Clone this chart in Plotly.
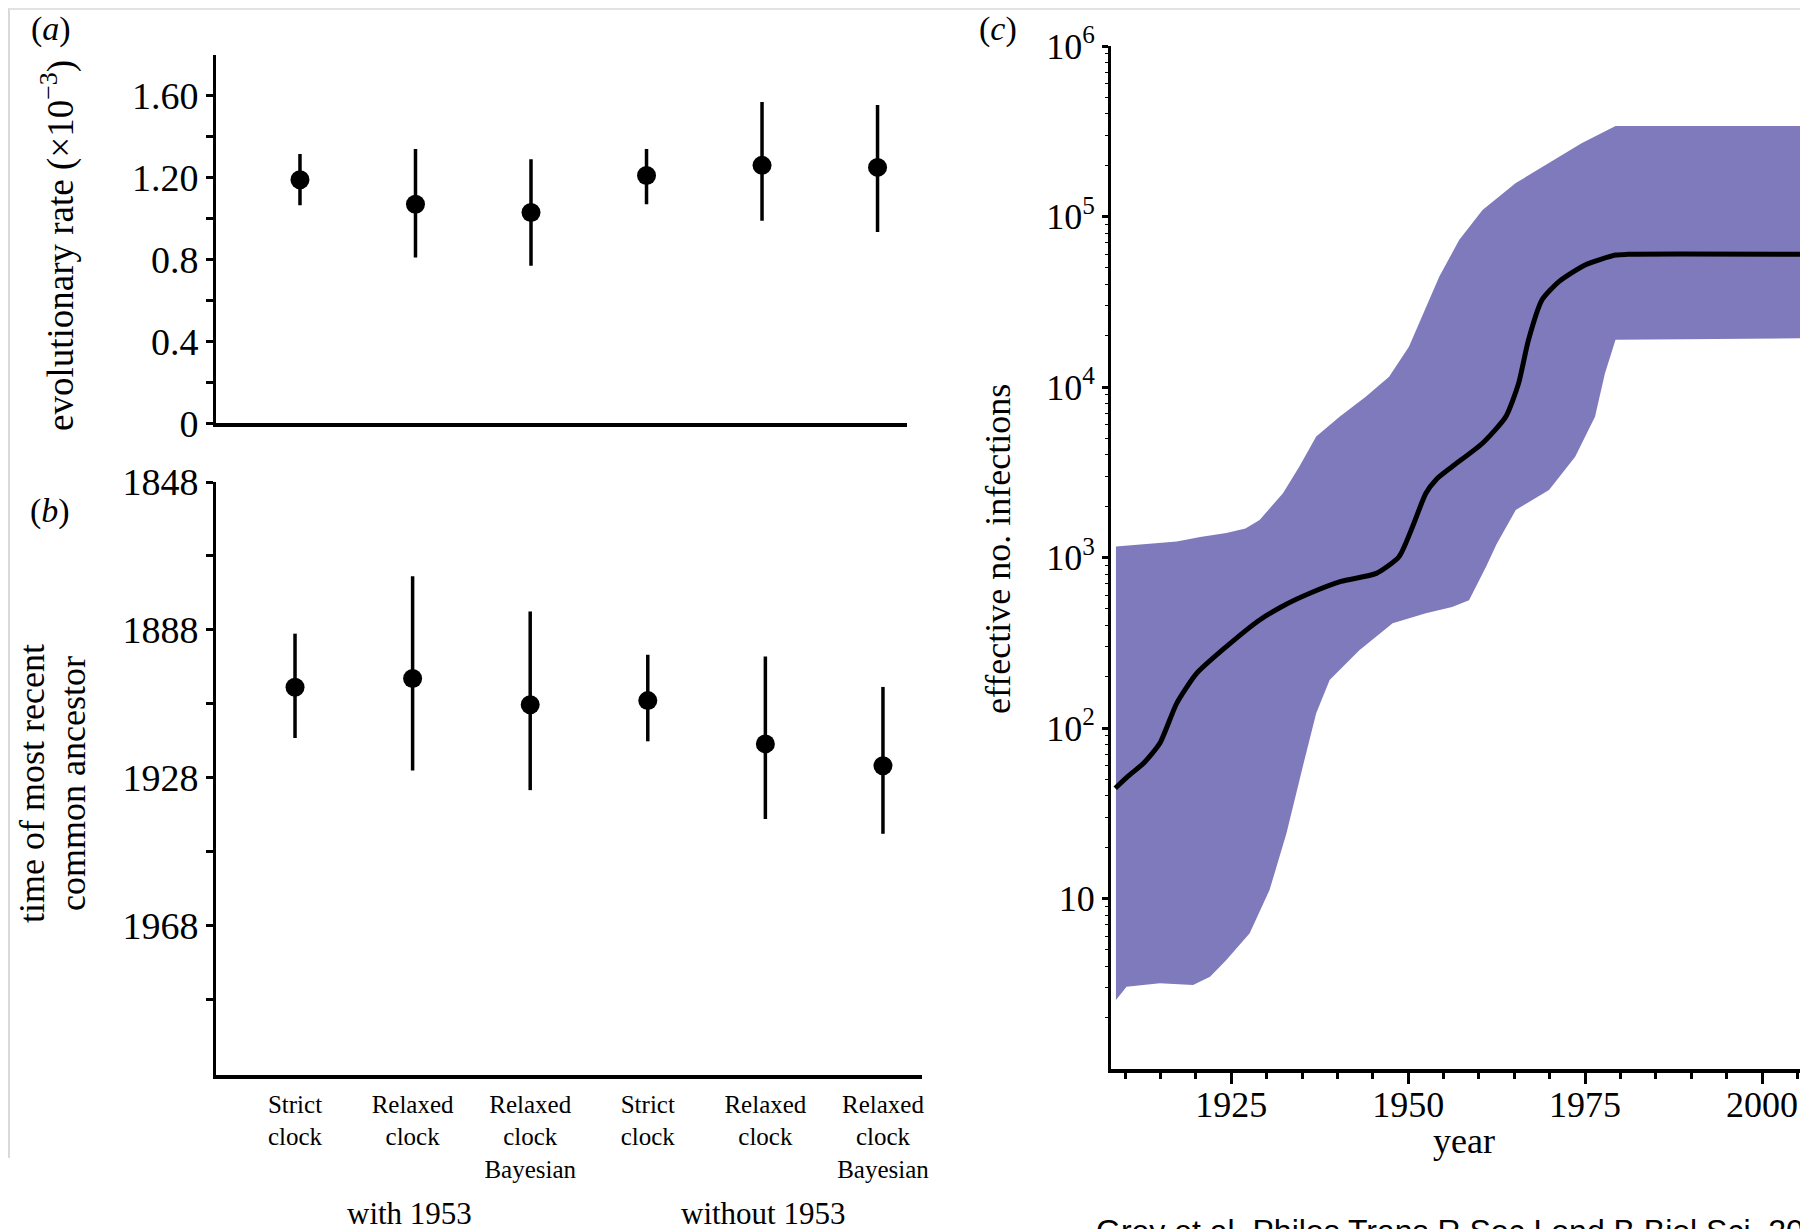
import plotly.graph_objects as go

# ---------------- data ----------------
positions = [1, 2, 3, 4, 5, 6]
categories = ["Strict<br>clock", "Relaxed<br>clock", "Relaxed<br>clock<br>Bayesian",
              "Strict<br>clock", "Relaxed<br>clock", "Relaxed<br>clock<br>Bayesian"]
groups = ["with 1953", "without 1953"]

# (a) evolutionary rate (x10^-3): estimate and 95% interval
rate_mean = [1.19, 1.07, 1.03, 1.21, 1.26, 1.25]
rate_low = [1.065, 0.81, 0.77, 1.07, 0.99, 0.935]
rate_high = [1.315, 1.34, 1.29, 1.34, 1.57, 1.555]

# (b) time of most recent common ancestor: estimate and interval
tmrca_mean = [1903.5, 1901.1, 1908.2, 1907.1, 1918.8, 1924.7]
tmrca_early = [1889.0, 1873.5, 1883.0, 1894.7, 1895.2, 1903.4]
tmrca_late = [1917.2, 1926.0, 1931.3, 1918.1, 1939.1, 1943.1]

# (c) effective number of infections through time
upper_years = [1908.7, 1913.0, 1917.3, 1920.6, 1924.3, 1927.0, 1929.0, 1932.3, 1934.6,
               1937.0, 1940.3, 1944.0, 1947.3, 1950.1, 1952.5, 1954.4, 1957.2, 1960.5,
               1965.2, 1969.9, 1974.5, 1979.3, 2006.5]
upper_vals = [1160, 1200, 1240, 1320, 1390, 1480, 1660, 2380, 3410,
              5120, 6700, 8770, 11500, 17200, 29600, 44400, 72800, 109000,
              157000, 205000, 269000, 340000, 340000]

lower_years = [1908.7, 1910.2, 1914.9, 1919.6, 1922.0, 1924.3, 1927.6, 1930.4, 1932.8,
               1935.1, 1937.0, 1938.9, 1943.1, 1947.8, 1952.5, 1956.2, 1958.6, 1961.0,
               1962.5, 1965.2, 1969.9, 1973.6, 1976.4, 1977.8, 1979.3, 2006.5]
lower_vals = [2.54, 3.04, 3.18, 3.11, 3.48, 4.36, 6.25, 11.2, 24.1,
              59.3, 122, 191, 286, 411, 471, 513, 562, 883,
              1200, 1900, 2490, 3900, 6700, 12000, 18900, 19300]

median_years = [1908.6, 1910.5, 1912.6, 1914.9, 1917.3, 1920.1, 1924.3, 1929.0, 1932.5,
                1936.1, 1940.5, 1945.5, 1948.7, 1950.6, 1952.5, 1954.0, 1956.2, 1960.5,
                1963.8, 1965.6, 1967.0, 1968.9, 1971.3, 1975.0, 1979.3, 1981.0, 2006.5]
median_vals = [44.3, 52.5, 62.1, 81.3, 140, 209, 300, 430, 525,
               617, 724, 807, 1010, 1510, 2380, 2880, 3410, 4680,
               6700, 10500, 18900, 32400, 41500, 52000, 59400, 60000, 60000]

rate_ticks = [0, 0.4, 0.8, 1.2, 1.6]
rate_ticktext = ["0", "0.4", "0.8", "1.20", "1.60"]
year_ticks = [1848, 1888, 1928, 1968]
log_ticks = [10, 100, 1000, 10000, 100000, 1000000]
log_ticktext = ["10", "10<sup>2</sup>", "10<sup>3</sup>", "10<sup>4</sup>",
                "10<sup>5</sup>", "10<sup>6</sup>"]
x_year_ticks = [1925, 1950, 1975, 2000]

# ---------------- layout helpers ----------------
PAGE_OFF = 8                 # default page margin around the plot div
W, H = 1808 - PAGE_OFF, 1229 - PAGE_OFF
SERIF = "Liberation Serif, Times New Roman, serif"
BAND = "#7f7abb"


def px(x):
    """page pixel x -> paper fraction"""
    return (x - PAGE_OFF) / W


def py(y):
    """page pixel y -> paper fraction"""
    return 1 - (y - PAGE_OFF) / H


fig = go.Figure()

# (a)
fig.add_trace(go.Scatter(
    x=positions, y=rate_mean, mode="markers",
    marker=dict(size=19, color="black"),
    error_y=dict(type="data", symmetric=False,
                 array=[h - m for h, m in zip(rate_high, rate_mean)],
                 arrayminus=[m - l for m, l in zip(rate_mean, rate_low)],
                 width=0, thickness=3.5, color="black"),
    xaxis="x", yaxis="y", hoverinfo="skip"))

# (b)
fig.add_trace(go.Scatter(
    x=positions, y=tmrca_mean, mode="markers",
    marker=dict(size=19, color="black"),
    error_y=dict(type="data", symmetric=False,
                 array=[l - m for l, m in zip(tmrca_late, tmrca_mean)],
                 arrayminus=[m - e for m, e in zip(tmrca_mean, tmrca_early)],
                 width=0, thickness=3.5, color="black"),
    xaxis="x2", yaxis="y2", hoverinfo="skip"))

# (c) band
fig.add_trace(go.Scatter(
    x=upper_years + lower_years[::-1],
    y=upper_vals + lower_vals[::-1],
    mode="lines", fill="toself", fillcolor=BAND,
    line=dict(width=0, color=BAND),
    xaxis="x3", yaxis="y3", hoverinfo="skip"))
fig.add_trace(go.Scatter(
    x=median_years, y=median_vals, mode="lines",
    line=dict(color="black", width=5, shape="spline", smoothing=0.6),
    xaxis="x3", yaxis="y3", hoverinfo="skip"))

axis_common = dict(showgrid=False, zeroline=False, showline=True, linecolor="black",
                   tickcolor="black", automargin=False,
                   tickfont=dict(family=SERIF, size=38, color="black"))

minor_log = [m * 10 ** k for k in range(0, 6) for m in range(2, 10)]

fig.update_layout(
    width=W, height=H,
    margin=dict(l=0, r=0, t=0, b=0, pad=0, autoexpand=False),
    paper_bgcolor="white", plot_bgcolor="white",
    showlegend=False,
    font=dict(family=SERIF, color="black"),
    xaxis=dict(axis_common, domain=[px(216), px(907)], range=[0.273, 6.255],
               anchor="y", linewidth=4, showticklabels=False, ticks=""),
    yaxis=dict(axis_common, domain=[py(423.3), py(54.8)], range=[0, 1.8],
               anchor="x", linewidth=3, tickmode="array", tickvals=rate_ticks,
               ticktext=rate_ticktext, ticks="outside", ticklen=7, tickwidth=2.5,
               minor=dict(tickvals=[0.2, 0.6, 1.0, 1.4], ticks="outside", ticklen=7,
                          tickwidth=2.5, tickcolor="black")),
    xaxis2=dict(axis_common, domain=[px(216), px(922)], range=[0.328, 6.332],
                anchor="y2", linewidth=4, tickmode="array", tickvals=positions,
                ticktext=categories, ticks="", ticklabelstandoff=4,
                tickfont=dict(family=SERIF, size=25, color="black")),
    yaxis2=dict(axis_common, domain=[py(1074.6), py(482)], range=[2008.2, 1848],
                anchor="x2", linewidth=3, tickmode="array", tickvals=year_ticks,
                ticks="outside", ticklen=7, tickwidth=2.5,
                minor=dict(tickvals=[1868, 1908, 1948, 1988], ticks="outside", ticklen=7,
                           tickwidth=2.5, tickcolor="black")),
    xaxis3=dict(axis_common, domain=[px(1111), 1.0], range=[1908.0, 2006.5],
                anchor="y3", linewidth=3.5, tickmode="array", tickvals=x_year_ticks,
                ticks="outside", ticklen=11, tickwidth=3, ticklabelstandoff=-10,
                tickfont=dict(family=SERIF, size=36, color="black"),
                minor=dict(dtick=5, tick0=1900, ticks="outside", ticklen=6,
                           tickwidth=2.5, tickcolor="black")),
    yaxis3=dict(axis_common, domain=[py(1069), py(46)], type="log", range=[0, 6],
                anchor="x3", linewidth=3, tickmode="array", tickvals=log_ticks,
                ticktext=log_ticktext, ticks="outside", ticklen=6, tickwidth=2.5,
                tickfont=dict(family=SERIF, size=36, color="black"),
                minor=dict(tickmode="array", tickvals=minor_log, ticks="outside",
                           ticklen=3, tickwidth=1.2, tickcolor="black")),
)

ann = []


def add_text(text, x, y, size, angle=0, family=SERIF, xanchor="center", yanchor="middle"):
    ann.append(dict(text=text, x=px(x), y=py(y), xref="paper", yref="paper",
                    showarrow=False, textangle=angle, xanchor=xanchor, yanchor=yanchor,
                    font=dict(family=family, size=size, color="black")))


add_text("(<i>a</i>)", 51, 29, 34)
add_text("(<i>b</i>)", 50, 511, 34)
add_text("(<i>c</i>)", 998, 29, 34)
add_text("evolutionary rate (×10<sup>−3</sup>)", 58, 246, 37, angle=-90)
add_text("time of most recent", 32, 784, 36, angle=-90)
add_text("common ancestor", 73, 784, 36, angle=-90)
add_text("effective no. infections", 998, 549, 36, angle=-90)
add_text("year", 1464, 1141, 36)
add_text(groups[0], 409, 1213, 31)
add_text(groups[1], 763, 1213, 31)
add_text("Grey et al. Philos Trans R Soc Lond B Biol Sci. 2013.", 1094, 1211, 32,
         family="Liberation Sans, Arial, sans-serif", xanchor="left", yanchor="top")

fig.update_layout(annotations=ann)

# faint scan border lines
fig.add_shape(type="line", xref="paper", yref="paper", x0=px(9), x1=px(9),
              y0=1, y1=py(1158), line=dict(color="#d9d9d9", width=2))
fig.add_shape(type="line", xref="paper", yref="paper", x0=px(9), x1=1,
              y0=py(9), y1=py(9), line=dict(color="#e2e2e2", width=2))

fig.write_html("out.html", default_width=f"{W}px", default_height=f"{H}px")
